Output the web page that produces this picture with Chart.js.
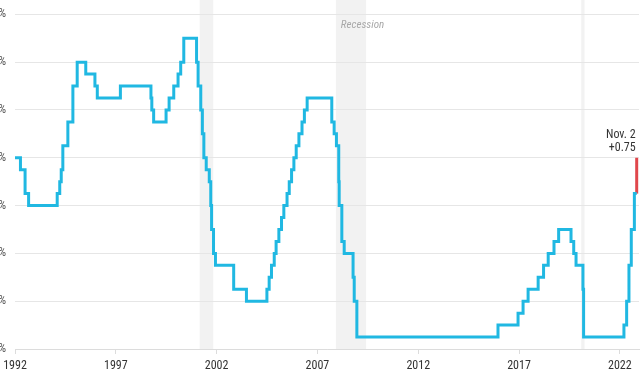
<!DOCTYPE html>
<html>
<head>
<meta charset="utf-8">
<script src="https://cdn.jsdelivr.net/npm/chart.js@4"></script>
<style>
  html,body{margin:0;padding:0;background:#fff;overflow:hidden;}
  #wrap{position:absolute;left:-19px;top:0;width:660px;height:384px;}
</style>
</head>
<body>
<div id="wrap"><canvas id="rateChart" width="660" height="384"></canvas></div>
<script>
// fed funds target (upper bound), effective dates
const rateDates = [
  '1992-01-01','1992-04-09','1992-07-02','1992-09-04',
  '1994-02-04','1994-03-22','1994-04-18','1994-05-17','1994-08-16','1994-11-15',
  '1995-02-01','1995-07-06','1995-12-19','1996-01-31','1997-03-25',
  '1998-09-29','1998-10-15','1998-11-17','1999-06-30','1999-08-24','1999-11-16',
  '2000-02-02','2000-03-21','2000-05-16',
  '2001-01-03','2001-01-31','2001-03-20','2001-04-18','2001-05-15','2001-06-27',
  '2001-08-21','2001-09-17','2001-10-02','2001-11-06','2001-12-11',
  '2002-11-06','2003-06-25',
  '2004-06-30','2004-08-10','2004-09-21','2004-11-10','2004-12-14',
  '2005-02-02','2005-03-22','2005-05-03','2005-06-30','2005-08-09','2005-09-20','2005-11-01','2005-12-13',
  '2006-01-31','2006-03-28','2006-05-10','2006-06-29',
  '2007-09-18','2007-10-31','2007-12-11',
  '2008-01-22','2008-01-30','2008-03-18','2008-04-30','2008-10-08','2008-10-29','2008-12-16',
  '2015-12-16','2016-12-14','2017-03-15','2017-06-14','2017-12-13',
  '2018-03-21','2018-06-13','2018-09-26','2018-12-19',
  '2019-07-31','2019-09-18','2019-10-30','2020-03-03','2020-03-15',
  '2022-03-16','2022-05-04','2022-06-15','2022-07-27','2022-09-21','2022-11-02'
];
const rateValues = [
  4.00,3.75,3.25,3.00,
  3.25,3.50,3.75,4.25,4.75,5.50,
  6.00,5.75,5.50,5.25,5.50,
  5.25,5.00,4.75,5.00,5.25,5.50,
  5.75,6.00,6.50,
  6.00,5.50,5.00,4.50,4.00,3.75,
  3.50,3.00,2.50,2.00,1.75,
  1.25,1.00,
  1.25,1.50,1.75,2.00,2.25,
  2.50,2.75,3.00,3.25,3.50,3.75,4.00,4.25,
  4.50,4.75,5.00,5.25,
  4.75,4.50,4.25,
  3.50,3.00,2.25,2.00,1.50,1.00,0.25,
  0.50,0.75,1.00,1.25,1.50,
  1.75,2.00,2.25,2.50,
  2.25,2.00,1.75,1.25,0.25,
  0.50,1.00,1.75,2.50,3.25,3.25
];

// latest hike
const hikeDate = '2022-11-02';
const hikeFrom = 3.25;
const hikeTo = 4.00;
const hikeLabel = ['Nov. 2', '+0.75'];

// recessions (start, end)
const recessionStarts = ['2001-03-01','2007-12-01','2020-02-01'];
const recessionEnds   = ['2001-11-01','2009-06-01','2020-04-01'];
const recessionLabel = 'Recession';

const yearTicks = [1992,1997,2002,2007,2012,2017,2022];
const pctTicks = [0,1,2,3,4,5,6,7];

function toYear(s){
    const d = new Date(s+'T00:00:00Z');
    const y = d.getUTCFullYear();
    const start = Date.UTC(y,0,1), end = Date.UTC(y+1,0,1);
    return y + (d.getTime()-start)/(end-start);
}

const ratePoints = rateDates.map((d,i)=>({x:toYear(d), y:rateValues[i]}));
const hikePoints = [{x:toYear(hikeDate), y:hikeFrom},{x:toYear(hikeDate), y:hikeTo}];

const FONT = "'Liberation Sans Narrow', 'Roboto Condensed', Roboto, sans-serif";

// ===============================
// RECESSION BANDS + LABELS
// ===============================
const extras = {
    id:'extras',
    beforeDraw(chart){
        const {ctx, chartArea:a, scales:{x}} = chart;
        ctx.save();
        ctx.fillStyle = '#f2f2f2';
        recessionStarts.forEach((s,i)=>{
            const x0 = x.getPixelForValue(toYear(s));
            const x1 = x.getPixelForValue(toYear(recessionEnds[i]));
            ctx.fillRect(x0, 0, x1-x0, a.bottom);
        });
        ctx.restore();
    },
    afterDatasetsDraw(chart){
        const {ctx, scales:{x,y}} = chart;
        ctx.save();
        // recession label next to 2008 band
        ctx.font = 'italic 11px '+FONT;
        ctx.fillStyle = '#a8a8a8';
        ctx.textAlign = 'left';
        ctx.textBaseline = 'alphabetic';
        ctx.fillText(recessionLabel, x.getPixelForValue(toYear(recessionStarts[1]))+5, 28);

        // hike annotation
        ctx.font = '12px '+FONT;
        ctx.fillStyle = '#333';
        ctx.textAlign = 'right';
        const hx = x.getPixelForValue(toYear(hikeDate)) - 1;
        const hy = y.getPixelForValue(hikeTo);
        ctx.fillText(hikeLabel[0], hx, hy-20);
        ctx.fillText(hikeLabel[1], hx, hy-7);
        ctx.restore();
    }
};

new Chart(document.getElementById('rateChart'),{
    type:'line',
    data:{
        datasets:[{
            data:ratePoints,
            borderColor:'#20b8e2',
            borderWidth:3,
            stepped:'before',
            pointRadius:0,
            borderJoinStyle:'miter',
            borderCapStyle:'butt',
            fill:false,
            clip:false
        },{
            data:hikePoints,
            borderColor:'#e0474c',
            borderWidth:3,
            pointRadius:0,
            borderCapStyle:'butt',
            fill:false,
            clip:false
        }]
    },
    options:{
        responsive:false,
        animation:false,
        layout:{padding:{top:0,right:2,bottom:0,left:0}},
        plugins:{legend:{display:false},tooltip:{enabled:false}},
        scales:{
            x:{
                type:'linear',
                min:1992,
                max:2022.95,
                afterBuildTicks:s=>{ s.ticks = yearTicks.map(v=>({value:v})); },
                afterFit:s=>{ s.height = 35; s.paddingLeft = 0; s.paddingRight = 0; },
                grid:{drawOnChartArea:false, drawTicks:true, tickLength:5, color:'#dcdcdc'},
                border:{display:true, color:'#dcdcdc'},
                ticks:{
                    autoSkip:false,
                    maxRotation:0,
                    padding:5,
                    color:'#333',
                    font:{family:FONT, size:12},
                    callback:v=>String(v)
                }
            },
            y:{
                min:0,
                max:7.3,
                afterBuildTicks:s=>{ s.ticks = pctTicks.map(v=>({value:v})); },
                afterFit:s=>{ s.width = 34; s.paddingTop = 0; s.paddingBottom = 0; },
                grid:{color:'#e6e6e6', drawTicks:false},
                border:{display:false},
                ticks:{
                    padding:9,
                    color:'#555',
                    font:{family:FONT, size:12},
                    callback:v=>v+'%'
                }
            }
        }
    },
    plugins:[extras]
});
</script>
</body>
</html>
